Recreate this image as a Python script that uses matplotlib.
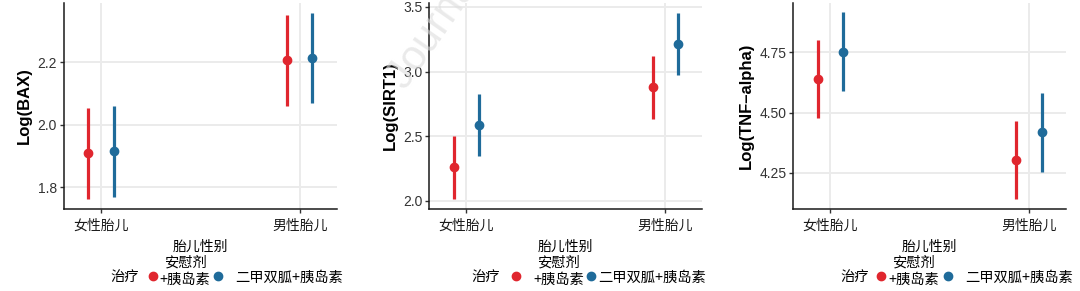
import matplotlib.pyplot as plt
from matplotlib.lines import Line2D
import numpy as np

plt.rcParams['font.family'] = ['Noto Sans CJK SC', 'DejaVu Sans']

groups = ["女性胎儿", "男性胎儿"]
treatments = ["安慰剂\n+胰岛素", "二甲双胍+胰岛素"]
colors = ["#E0262E", "#1F6B9A"]

# mean, lower, upper for [placebo, metformin] x [female, male]
bax_mean = [[1.909, 2.208], [1.914, 2.214]]
bax_low = [[1.762, 2.061], [1.769, 2.068]]
bax_high = [[2.053, 2.350], [2.060, 2.356]]

sirt_mean = [[2.26, 2.88], [2.59, 3.21]]
sirt_low = [[2.015, 2.63], [2.35, 2.97]]
sirt_high = [[2.503, 3.12], [2.83, 3.45]]

tnf_mean = [[4.639, 4.303], [4.754, 4.420]]
tnf_low = [[4.478, 4.140], [4.590, 4.253]]
tnf_high = [[4.803, 4.466], [4.918, 4.582]]

panels = [
    ("Log(BAX)", bax_mean, bax_low, bax_high, [1.8, 2.0, 2.2], ["1.8", "2.0", "2.2"], (1.73, 2.389)),
    ("Log(SIRT1)", sirt_mean, sirt_low, sirt_high, [2.0, 2.5, 3.0, 3.5], ["2.0", "2.5", "3.0", "3.5"], (1.938, 3.53)),
    ("Log(TNF\u2013alpha)", tnf_mean, tnf_low, tnf_high, [4.25, 4.5, 4.75], ["4.25", "4.50", "4.75"], (4.099, 4.956)),
]

lefts = [0.0593, 0.3975, 0.7345]
# legend layout per panel, px from axes left: title, red key, placebo label centre, blue key, metformin label
leg_px = [(46, 89, 121, 154, 171), (42, 87, 129, 162, 169), (47, 88, 120, 155, 172)]

fig = plt.figure(figsize=(10.8, 2.91), dpi=100)

fig.text(0.352, 0.67, "Journal Pre-proof", rotation=55, fontsize=30, color="#dcdcdc",
         alpha=0.6, family=["Liberation Sans", "DejaVu Sans"], ha="left", va="bottom", zorder=0)

x = np.array([1, 2])
dodge = 0.063
W = 272.5
for i, (ylab, m, lo, hi, yt, ytl, ylim) in enumerate(panels):
    ax = fig.add_axes([lefts[i], 0.2818, 0.2525, 0.708])
    ax.patch.set_alpha(0)
    for k in range(2):
        xs = x + (k - 0.5) * 2 * dodge
        mm = np.array(m[k])
        ax.vlines(xs, lo[k], hi[k], color=colors[k], lw=2.3, zorder=3)
        ax.plot(xs, mm, 'o', color=colors[k], ms=6, zorder=4)
    ax.set_xlim(0.814, 2.186)
    ax.set_ylim(*ylim)
    ax.set_xticks(x)
    ax.set_xticklabels(groups, fontsize=10, color="#1a1a1a")
    ax.set_yticks(yt)
    ax.set_yticklabels(ytl, fontsize=10, color="#333333", family=["Liberation Sans", "DejaVu Sans"])
    ax.grid(True, color="#EBEBEB", lw=1.4, zorder=0)
    ax.set_axisbelow(True)
    for s in ["top", "right"]:
        ax.spines[s].set_visible(False)
    for s in ["left", "bottom"]:
        ax.spines[s].set_linewidth(1.1)
        ax.spines[s].set_color("#1a1a1a")
    ax.tick_params(length=3, width=1, color="#333333", pad=2)
    ax.tick_params(axis="x", pad=4)
    ax.set_ylabel(ylab, fontsize=12, fontweight="bold", family=["Liberation Sans", "DejaVu Sans"], labelpad=4)
    ax.set_xlabel("胎儿性别", fontsize=10, labelpad=5)

    # legend keys (labels drawn as separate texts to mimic ggplot layout)
    t_px, r_px, c_px, b_px, l_px = leg_px[i]
    fs = 10
    hl = 0.5
    gap = (b_px - r_px) / (fs * 100 / 72) - hl
    handles = [Line2D([], [], marker='o', ls='none', color=c, ms=6) for c in colors]
    leg = ax.legend(handles, ["", ""], ncol=2, frameon=False, loc="center left",
                    bbox_to_anchor=((r_px - hl * fs * 100 / 72 / 2) / W, -0.33), fontsize=fs,
                    handlelength=hl, handletextpad=0, columnspacing=gap,
                    borderaxespad=0, borderpad=0)
    ax.text(t_px / W, -0.33, "治疗", transform=ax.transAxes, fontsize=10.3, va="center")
    ax.text(c_px / W, -0.262, "安慰剂", transform=ax.transAxes, fontsize=10.3, va="center", ha="center")
    ax.text(c_px / W, -0.345, "+胰岛素", transform=ax.transAxes, fontsize=10.3, va="center", ha="center")
    ax.text(l_px / W, -0.335, treatments[1], transform=ax.transAxes, fontsize=10.3, va="center")

plt.savefig("out.png", dpi=100)
